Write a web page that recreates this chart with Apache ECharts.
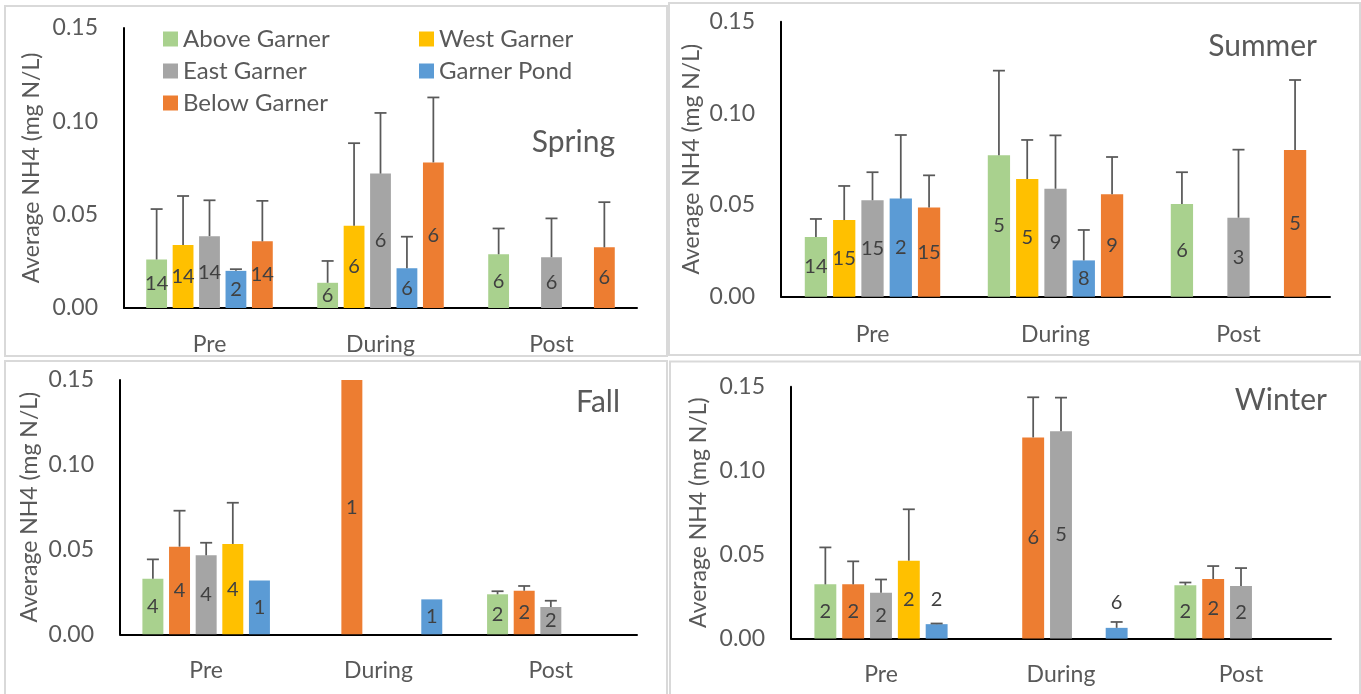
<!DOCTYPE html>
<html>
<head>
<meta charset="utf-8">
<script src="https://cdn.jsdelivr.net/npm/echarts@6/dist/echarts.min.js"></script>
<style>
  html, body { margin: 0; padding: 0; background: #fff; }
  #chart { width: 1361px; height: 694px; }
</style>
</head>
<body>
<div id="chart"></div>
<script>
// Average NH4 by sampling period, one panel per season.
const categories = ['Pre', 'During', 'Post'];
const yTicks = [0, 0.05, 0.1, 0.15];

const siteColors = {
  'Above Garner': '#A9D18E',
  'West Garner': '#FFC000',
  'East Garner': '#A5A5A5',
  'Garner Pond': '#5B9BD5',
  'Below Garner': '#ED7D31'
};

// ---- Spring ----
const springSites = ['Above Garner', 'West Garner', 'East Garner', 'Garner Pond', 'Below Garner'];
const springMean = [
  [0.026, 0.0135, 0.0288],
  [0.0337, 0.044, null],
  [0.0385, 0.072, 0.0272],
  [0.0199, 0.0213, null],
  [0.0357, 0.078, 0.0325]
];
const springSD = [
  [0.027, 0.0117, 0.0138],
  [0.0263, 0.0443, null],
  [0.0192, 0.0325, 0.0208],
  [0.0009, 0.0169, null],
  [0.0217, 0.0348, 0.0242]
];
const springN = [
  [14, 6, 6],
  [14, 6, null],
  [14, 6, 6],
  [2, 6, null],
  [14, 6, 6]
];

// ---- Summer ----
const summerSites = ['Above Garner', 'West Garner', 'East Garner', 'Garner Pond', 'Below Garner'];
const summerMean = [
  [0.0326, 0.0771, 0.0506],
  [0.0418, 0.0642, null],
  [0.0526, 0.0589, 0.0431],
  [0.0535, 0.0198, null],
  [0.0486, 0.0559, 0.080]
];
const summerSD = [
  [0.0098, 0.0462, 0.0173],
  [0.0186, 0.0213, null],
  [0.0153, 0.0291, 0.0371],
  [0.0347, 0.0166, null],
  [0.0176, 0.0203, 0.0382]
];
const summerN = [
  [14, 5, 6],
  [15, 5, null],
  [15, 9, 3],
  [2, 8, null],
  [15, 9, 5]
];

// ---- Fall ----
const fallSites = ['Above Garner', 'Below Garner', 'East Garner', 'West Garner', 'Garner Pond'];
const fallMean = [
  [0.0328, null, 0.0236],
  [0.0517, 0.15, 0.0257],
  [0.0466, null, 0.0161],
  [0.0533, null, null],
  [0.0318, 0.0206, null]
];
const fallSD = [
  [0.0114, null, 0.0018],
  [0.0212, null, 0.0028],
  [0.0074, null, 0.0037],
  [0.0243, null, null],
  [null, null, null]
];
const fallN = [
  [4, null, 2],
  [4, 1, 2],
  [4, null, 2],
  [4, null, null],
  [1, 1, null]
];

// ---- Winter ----
const winterSites = ['Above Garner', 'Below Garner', 'East Garner', 'West Garner', 'Garner Pond'];
const winterMean = [
  [0.0323, null, 0.0317],
  [0.0323, 0.1198, 0.0355],
  [0.0273, 0.1234, 0.0313],
  [0.0464, null, null],
  [0.0086, 0.0064, null]
];
const winterSD = [
  [0.022, null, 0.0017],
  [0.0137, 0.0239, 0.0077],
  [0.0079, 0.0201, 0.0107],
  [0.0306, null, null],
  [0.0004, 0.0035, null]
];
const winterN = [
  [2, null, 2],
  [2, 6, 2],
  [2, 5, 2],
  [2, null, null],
  [2, 6, null]
];

const FONT = 'Lato';
const TEXT = '#595959';
const LABEL = '#404040';
const CAT_GAP = 0.26;
const BAR_GAP = 0.27;

const panels = [
  { title: 'Spring', sites: springSites, mean: springMean, sd: springSD, n: springN,
    grid: { left: 124, top: 28, right: 724, bottom: 386 }, nameGap: 81, catMargin: 25,
    titlePos: [615, 142], frame: [5, 6, 662, 350] },
  { title: 'Summer', sites: summerSites, mean: summerMean, sd: summerSD, n: summerN,
    grid: { left: 781, top: 21.7, right: 31, bottom: 397.3 }, nameGap: 78, catMargin: 26,
    titlePos: [1317, 46], frame: [669, 3, 691, 352] },
  { title: 'Fall', sites: fallSites, mean: fallMean, sd: fallSD, n: fallN,
    grid: { left: 120, top: 380, right: 724, bottom: 59.7 }, nameGap: 79, catMargin: 25,
    titlePos: [620, 402], frame: [5, 361, 662, 400] },
  { title: 'Winter', sites: winterSites, mean: winterMean, sd: winterSD, n: winterN,
    grid: { left: 791, top: 386.7, right: 30, bottom: 55.4 }, nameGap: 81, catMargin: 24,
    titlePos: [1327, 400], frame: [670, 361.5, 690, 400] }
];

const grids = [], xAxes = [], yAxes = [], series = [], graphics = [];

panels.forEach((p, pi) => {
  grids.push(Object.assign({ containLabel: false }, p.grid));
  xAxes.push({
    type: 'category', gridIndex: pi, data: categories,
    axisLine: { lineStyle: { color: '#000', width: 2 } },
    axisTick: { show: false },
    axisLabel: { color: TEXT, fontSize: 23, fontFamily: FONT, margin: p.catMargin }
  });
  yAxes.push({
    type: 'value', gridIndex: pi,
    min: yTicks[0], max: yTicks[yTicks.length - 1], interval: yTicks[1] - yTicks[0],
    name: 'Average NH4 (mg N/L)', nameLocation: 'middle', nameGap: p.nameGap,
    nameTextStyle: { color: TEXT, fontSize: 23, fontFamily: FONT },
    axisLine: { show: true, lineStyle: { color: '#000', width: 2 } },
    axisTick: { show: false },
    splitLine: { show: false },
    axisLabel: { color: TEXT, fontSize: 23, fontFamily: FONT, margin: 26,
                 formatter: v => v.toFixed(2) }
  });

  const N = p.sites.length;
  p.sites.forEach((site, si) => {
    const counts = p.n[si];
    const aboveBar = (p.title === 'Winter' && site === 'Garner Pond');
    series.push({
      type: 'bar', name: site, xAxisIndex: pi, yAxisIndex: pi,
      data: p.mean[si].map(v => (v == null ? '-' : v)),
      barCategoryGap: (CAT_GAP * 100) + '%',
      barGap: (BAR_GAP * 100) + '%',
      itemStyle: { color: siteColors[site] },
      label: {
        show: true,
        position: aboveBar ? 'top' : 'inside',
        distance: aboveBar ? 15 : 5,
        color: LABEL, fontSize: 20, fontFamily: FONT,
        formatter: prm => (counts[prm.dataIndex] == null ? '' : String(counts[prm.dataIndex]))
      },
      emphasis: { disabled: true }
    });
  });

  // upper standard-deviation whiskers, placed on each bar's slot
  const errData = [];
  p.sites.forEach((site, si) => {
    p.mean[si].forEach((m, ci) => {
      const s = p.sd[si][ci];
      if (m != null && s != null) errData.push([ci, m, m + s, si]);
    });
  });
  series.push({
    type: 'custom', xAxisIndex: pi, yAxisIndex: pi, z: 5,
    encode: { x: 0, y: [1, 2] },
    data: errData,
    silent: true,
    renderItem: (params, api) => {
      const ci = api.value(0), m = api.value(1), t = api.value(2), slot = api.value(3);
      const base = api.coord([ci, m]);
      const top = api.coord([ci, t]);
      const band = api.size([1, 0])[0];
      const barW = band * (1 - CAT_GAP) / (N + (N - 1) * BAR_GAP);
      const total = N * barW + (N - 1) * barW * BAR_GAP;
      const x = base[0] - total / 2 + slot * barW * (1 + BAR_GAP) + barW / 2;
      const style = { stroke: '#595959', lineWidth: 1.75 };
      return {
        type: 'group',
        children: [
          { type: 'line', shape: { x1: x, y1: base[1], x2: x, y2: top[1] }, style },
          { type: 'line', shape: { x1: x - 6, y1: top[1], x2: x + 6, y2: top[1] }, style }
        ]
      };
    }
  });

  graphics.push({
    type: 'rect', silent: true, z: -1,
    shape: { x: p.frame[0], y: p.frame[1], width: p.frame[2], height: p.frame[3] },
    style: { fill: 'none', stroke: '#D9D9D9', lineWidth: 2 }
  });
  graphics.push({
    type: 'text', silent: true,
    x: p.titlePos[0], y: p.titlePos[1],
    style: { text: p.title, fill: TEXT, fontSize: 30, fontFamily: FONT,
             align: 'right', verticalAlign: 'middle' }
  });
});

const legendText = { color: TEXT, fontSize: 24, fontFamily: FONT, lineHeight: 24 };

const chart = echarts.init(document.getElementById('chart'), null, { renderer: 'canvas' });
chart.setOption({
  animation: false,
  textStyle: { fontFamily: FONT },
  grid: grids,
  xAxis: xAxes,
  yAxis: yAxes,
  series: series,
  graphic: graphics,
  legend: [
    { data: ['Above Garner', 'East Garner', 'Below Garner'], orient: 'vertical',
      left: 158, top: 22, itemWidth: 15, itemHeight: 15, itemGap: 8, icon: 'rect',
      textStyle: legendText, selectedMode: false },
    { data: ['West Garner', 'Garner Pond'], orient: 'vertical',
      left: 414, top: 22, itemWidth: 15, itemHeight: 15, itemGap: 8, icon: 'rect',
      textStyle: legendText, selectedMode: false }
  ]
});
</script>
</body>
</html>
